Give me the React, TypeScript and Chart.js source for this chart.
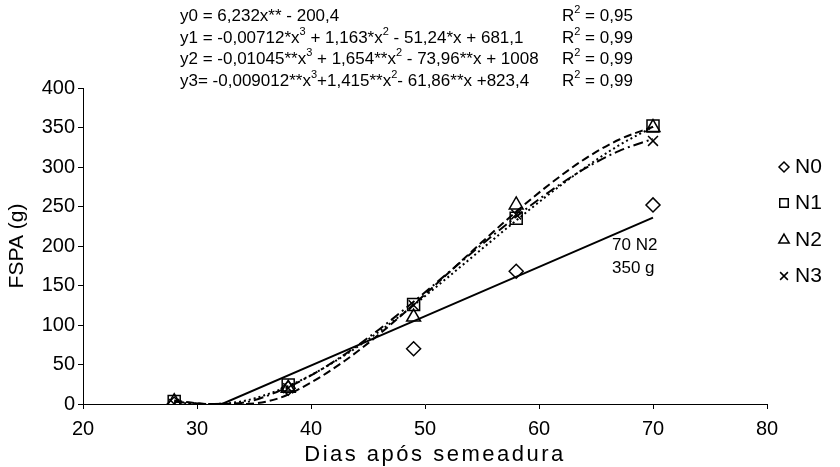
import React, { useEffect, useRef } from 'react';
import { Chart, registerables } from 'chart.js';
import { drawPoint } from 'chart.js/helpers';

Chart.register(...registerables);

// Observed data (days after sowing, FSPA in g)
const days = [28, 38, 49, 58, 70];
const n0 = [0, 20, 70, 168, 252];
const n1 = [3, 24, 126, 235, 352];
const n2 = [3, 20, 110, 252, 350];
const n3 = [0, 20, 125, 240, 333];

// Trend lines, values
const linX = [32.2, 70];
const linY0 = [0, 236];
const fitX = [28, 31, 34, 37, 40, 43, 46, 49, 52, 55, 58, 61, 64, 67, 70];
const fitY1 = [1.9, 0, 3.5, 16.7, 36.6, 62.1, 92.0, 125.0, 160.3, 196.4, 232.3, 266.9, 298.8, 327.3, 350.8];
const fitY2 = [4.4, 0, 0, 6.5, 27.2, 55.1, 88.5, 125.9, 165.1, 205.0, 243.5, 278.9, 310.0, 334.5, 351.0];
const fitY3 = [2.9, 0, 1.7, 15.2, 36.2, 63.2, 94.7, 129.4, 165.7, 202.1, 237.2, 269.6, 297.8, 320.2, 335.6];

const xTicks = [20, 30, 40, 50, 60, 70, 80];
const yTicks = [0, 50, 100, 150, 200, 250, 300, 350, 400];

const equations = [
  'y0 = 6,232x** - 200,4',
  'y1 = -0,00712*x^3 + 1,163*x^2 - 51,24*x + 681,1',
  'y2 = -0,01045**x^3 + 1,654**x^2 - 73,96**x + 1008',
  'y3= -0,009012**x^3+1,415**x^2- 61,86**x +823,4',
];
const r2Labels = ['R^2 = 0,95', 'R^2 = 0,99', 'R^2 = 0,99', 'R^2 = 0,99'];
const noteLines = ['70 N2', '350 g'];
const xTitle = 'Dias após semeadura';
const yTitle = 'FSPA (g)';

const FONT = '"Liberation Sans", Arial, sans-serif';

const pts = (xs: number[], ys: number[]) => xs.map((x, i) => ({ x, y: ys[i] }));

function drawRich(ctx: CanvasRenderingContext2D, text: string, x: number, y: number, size: number) {
  const parts = text.split(/(\^\d)/);
  let cx = x;
  for (const p of parts) {
    if (!p) continue;
    if (p.startsWith('^')) {
      const s = p.slice(1);
      ctx.font = `${Math.round(size * 0.62)}px ${FONT}`;
      ctx.fillText(s, cx, y - size * 0.38);
      cx += ctx.measureText(s).width;
    } else {
      ctx.font = `${size}px ${FONT}`;
      ctx.fillText(p, cx, y);
      cx += ctx.measureText(p).width;
    }
  }
}

const textPlugin = {
  id: 'texts',
  afterDraw(chart: any) {
    const ctx = chart.ctx as CanvasRenderingContext2D;
    ctx.save();
    ctx.fillStyle = '#000';
    ctx.textBaseline = 'middle';
    ctx.textAlign = 'left';
    const rows = [16, 38, 59, 81];
    equations.forEach((t, i) => drawRich(ctx, t, 180, rows[i], 17));
    r2Labels.forEach((t, i) => drawRich(ctx, t, 562, rows[i], 17));
    // annotation
    ctx.font = `17px ${FONT}`;
    ctx.fillText(noteLines[0], 612, 245);
    ctx.fillText(noteLines[1], 612, 268);
    // x axis title
    const area = chart.chartArea;
    ctx.font = `22px ${FONT}`;
    (ctx as any).letterSpacing = '2.5px';
    ctx.textAlign = 'center';
    ctx.fillText(xTitle, (area.left + area.right) / 2 + 10, 455);
    (ctx as any).letterSpacing = '0px';
    // legend
    const legendRows = [167, 203, 240, 276];
    const markers = chart.data.datasets.filter((d: any) => d.isMarker);
    markers.forEach((d: any, i: number) => {
      ctx.strokeStyle = '#000';
      ctx.fillStyle = 'rgba(0,0,0,0)';
      ctx.lineWidth = 1.5;
      drawPoint(ctx, { pointStyle: d.pointStyle, radius: d.legendRadius, rotation: 0, borderWidth: 1.5 }, 784, legendRows[i]);
      ctx.fillStyle = '#000';
      ctx.font = `21px ${FONT}`;
      ctx.textAlign = 'left';
      ctx.fillText(d.label, 795, legendRows[i]);
    });
    ctx.restore();
  },
};

export default function App() {
  const ref = useRef<HTMLCanvasElement>(null);
  useEffect(() => {
    if (!ref.current) return;
    const marker = (label: string, ys: number[], style: string, r: number, lr: number) => ({
      label,
      data: pts(days, ys),
      isMarker: true,
      legendRadius: lr,
      showLine: false,
      pointStyle: style,
      pointRadius: r,
      pointBorderColor: '#000',
      pointBackgroundColor: 'rgba(0,0,0,0)',
      pointBorderWidth: 1.5,
      borderColor: '#000',
      backgroundColor: 'rgba(0,0,0,0)',
    });
    const line = (label: string, xs: number[], ys: number[], dash: number[]) => ({
      label,
      data: pts(xs, ys),
      showLine: true,
      pointRadius: 0,
      borderColor: '#000',
      borderWidth: 2,
      borderDash: dash,
      tension: 0.4,
      cubicInterpolationMode: 'monotone',
      fill: false,
    });
    const chart = new Chart(ref.current, {
      type: 'scatter',
      data: {
        datasets: [
          line('y0', linX, linY0, []),
          line('y1', fitX, fitY1, [2, 3]),
          line('y2', fitX, fitY2, [8, 4]),
          line('y3', fitX, fitY3, [10, 4, 2, 4]),
          marker('N0', n0, 'rectRot', 7, 5),
          marker('N1', n1, 'rect', 8.5, 6),
          marker('N2', n2, 'triangle', 8, 6),
          marker('N3', n3, 'crossRot', 7, 5.5),
        ] as any,
      },
      options: {
        responsive: false,
        animation: false,
        devicePixelRatio: 1,
        layout: { padding: { left: 0, right: 73, top: 88, bottom: 0 } },
        plugins: { legend: { display: false }, tooltip: { enabled: false } },
        scales: {
          x: {
            type: 'linear',
            min: 20,
            max: 80,
            afterBuildTicks: (s: any) => { s.ticks = xTicks.map((v) => ({ value: v })); },
            afterFit: (s: any) => { s.height = 63; },
            ticks: { color: '#000', font: { family: FONT, size: 20 }, padding: 8 },
            grid: { drawOnChartArea: false, drawTicks: true, tickLength: 5, color: '#000' },
            border: { color: '#000', width: 1 },
            title: { display: false },
          },
          y: {
            type: 'linear',
            min: 0,
            max: 400,
            afterBuildTicks: (s: any) => { s.ticks = yTicks.map((v) => ({ value: v })); },
            afterFit: (s: any) => { s.width = 83; },
            ticks: { color: '#000', font: { family: FONT, size: 20 }, padding: 3 },
            grid: { drawOnChartArea: false, drawTicks: true, tickLength: 5, color: '#000' },
            border: { color: '#000', width: 1 },
            title: { display: true, text: yTitle, color: '#000', font: { family: FONT, size: 21 }, padding: { top: 5, bottom: 0 } },
          },
        },
      },
      plugins: [textPlugin],
    });
    return () => chart.destroy();
  }, []);
  return (
    <div style={{ position: 'fixed', left: 0, top: 0, width: 840, height: 467, background: '#fff' }}>
      <canvas ref={ref} width={840} height={467} />
    </div>
  );
}
